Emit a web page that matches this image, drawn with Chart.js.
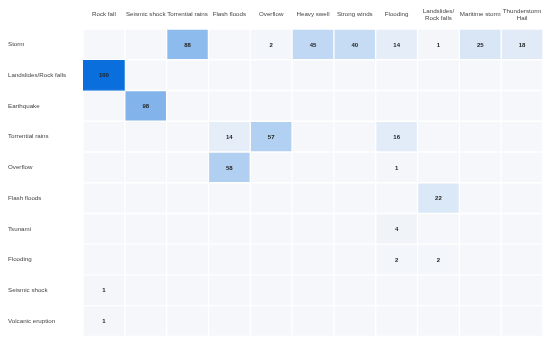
<!DOCTYPE html>
<html>
<head>
<meta charset="utf-8">
<script src="https://cdn.jsdelivr.net/npm/chart.js@4"></script>
<style>
  body { margin: 0; background: #fff; }
  #wrap { width: 550px; height: 343px; }
</style>
</head>
<body>
<div id="wrap"><canvas id="heat"></canvas></div>
<script>
// column categories (top) and row categories (left)
var columns = ['Rock fall', 'Seismic shock', 'Torrential rains', 'Flash floods', 'Overflow',
  'Heavy swell', 'Strong winds', 'Flooding', ['Landslides/', 'Rock falls'], 'Maritime storm', ['Thunderstorm', 'Hail']];
var rows = ['Storm', 'Landslides/Rock falls', 'Earthquake', 'Torrential rains', 'Overflow',
  'Flash floods', 'Tsunami', 'Flooding', 'Seismic shock', 'Volcanic eruption'];

// one array per row, null = empty cell
var storm           = [null, null, 88, null, 2, 45, 40, 14, 1, 25, 18];
var landslides      = [100, null, null, null, null, null, null, null, null, null, null];
var earthquake      = [null, 98, null, null, null, null, null, null, null, null, null];
var torrentialRains = [null, null, null, 14, 57, null, null, 16, null, null, null];
var overflow        = [null, null, null, 58, null, null, null, 1, null, null, null];
var flashFloods     = [null, null, null, null, null, null, null, null, 22, null, null];
var tsunami         = [null, null, null, null, null, null, null, 4, null, null, null];
var flooding        = [null, null, null, null, null, null, null, 2, 2, null, null];
var seismicShock    = [1, null, null, null, null, null, null, null, null, null, null];
var volcanic        = [1, null, null, null, null, null, null, null, null, null, null];
var matrix = [storm, landslides, earthquake, torrentialRains, overflow,
  flashFloods, tsunami, flooding, seismicShock, volcanic];

// base grey blended towards blue by value
function cellColor(v) {
  var a = v == null ? 0 : v / 200;
  var r = Math.round(245 + (10 - 245) * a);
  var g = Math.round(247 + (110 - 247) * a);
  var b = Math.round(250 + (220 - 250) * a);
  return 'rgb(' + r + ',' + g + ',' + b + ')';
}

var datasets = matrix.map(function(vals, r) {
  return {
    label: rows[r],
    data: vals.map(function() { return [r - 0.5, r + 0.5]; }),
    values: vals,
    backgroundColor: vals.map(cellColor),
    hoverBackgroundColor: '#0a6edc',
    hoverBorderColor: '#0a6edc',
    borderColor: '#ffffff',
    borderWidth: 1,
    borderSkipped: false,
    barPercentage: 1,
    categoryPercentage: 1,
    grouped: false
  };
});

var valueLabels = {
  id: 'valueLabels',
  afterDatasetsDraw: function(chart) {
    var ctx = chart.ctx;
    ctx.save();
    ctx.font = 'bold 6px Arial, "Liberation Sans", sans-serif';
    ctx.fillStyle = '#222';
    ctx.textAlign = 'center';
    ctx.textBaseline = 'middle';
    chart.data.datasets.forEach(function(ds, i) {
      chart.getDatasetMeta(i).data.forEach(function(bar, j) {
        var v = ds.values[j];
        if (v == null) return;
        ctx.fillText(v, bar.x, (bar.y + bar.base) / 2 + 0.5);
      });
    });
    ctx.restore();
  }
};

var font = { family: 'Arial, "Liberation Sans", sans-serif', size: 6.2, lineHeight: 1.15 };

var chart = new Chart(document.getElementById('heat'), {
  type: 'bar',
  data: { labels: columns, datasets: datasets },
  options: {
    responsive: true,
    maintainAspectRatio: false,
    animation: false,
    layout: { padding: { left: 8, right: 7, top: 0, bottom: 6 } },
    plugins: { legend: { display: false }, tooltip: { enabled: false } },
    scales: {
      x: {
        position: 'top',
        grid: { display: false, drawTicks: false },
        border: { display: false },
        ticks: { color: '#444', font: font, padding: 11, maxRotation: 0, autoSkip: false, crossAlign: 'center' },
        afterFit: function(s) { s.height = 29; s.paddingLeft = 0; s.paddingRight = 0; }
      },
      y: {
        type: 'linear',
        min: -0.5,
        max: 9.5,
        reverse: true,
        grid: { display: false, drawTicks: false },
        border: { display: false },
        afterBuildTicks: function(s) { s.ticks = rows.map(function(_, i) { return { value: i }; }); },
        ticks: {
          color: '#444', font: font, crossAlign: 'far', autoSkip: false,
          callback: function(v) { return rows[v]; }
        },
        afterFit: function(s) { s.width = 75; }
      }
    }
  },
  plugins: [valueLabels]
});

// reference shows the 100 cell highlighted
chart.setActiveElements([{ datasetIndex: 1, index: 0 }]);
chart.update();
</script>
</body>
</html>
